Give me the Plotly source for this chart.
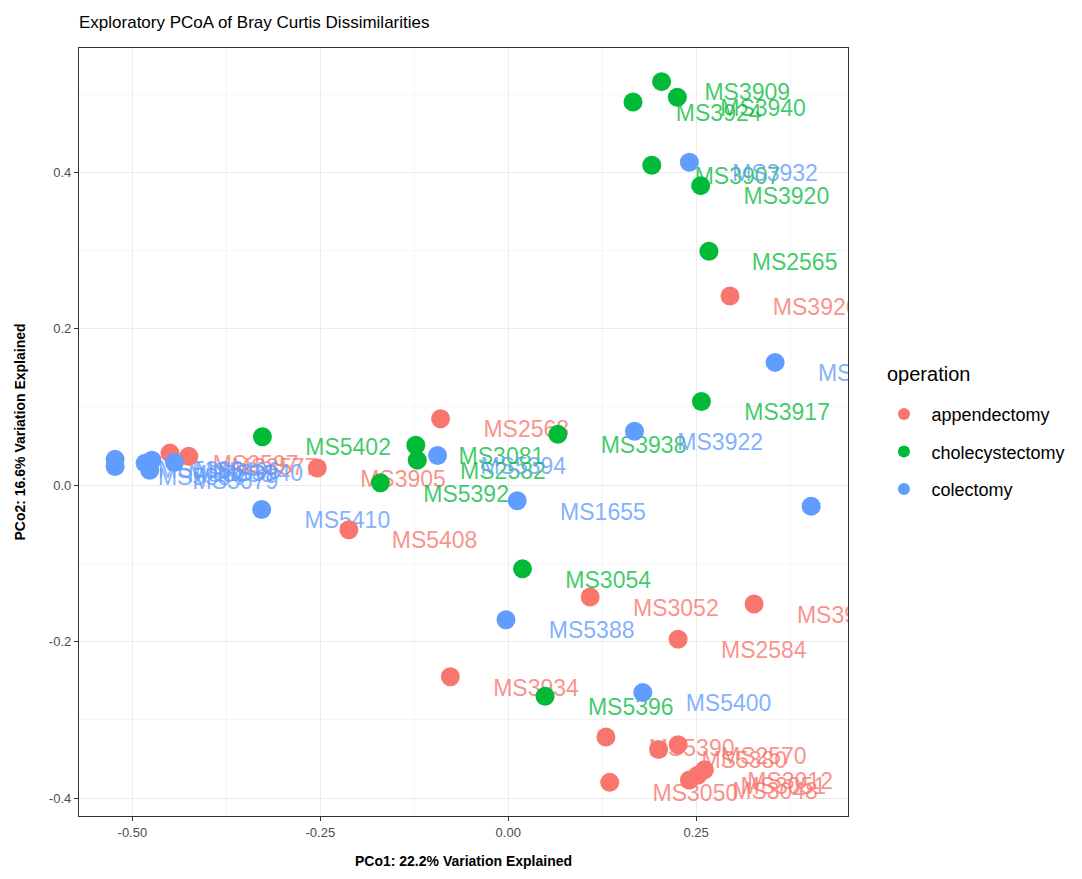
import plotly.graph_objects as go

# ---------------- data ----------------
operations = ["appendectomy", "cholecystectomy", "colectomy"]
colors = ["#F8766D", "#00BA38", "#619CFF"]
text_colors = ["rgba(248,118,109,0.8)", "rgba(0,186,56,0.75)", "rgba(97,156,255,0.8)"]

app_names = ["MS3926", "MS2568", "MS3905", "MS5408", "MS2597", "MS3577", "MS3052",
             "MS3915", "MS2584", "MS3934", "MS5390", "MS5380", "MS2570", "MS3050",
             "MS3048", "MS3051", "MS3012"]
app_x = [0.295, -0.090, -0.254, -0.212, -0.450, -0.425, 0.109,
         0.327, 0.226, -0.077, 0.130, 0.200, 0.226, 0.135,
         0.241, 0.252, 0.261]
app_y = [0.242, 0.085, 0.022, -0.057, 0.041, 0.037, -0.143,
         -0.152, -0.197, -0.245, -0.322, -0.338, -0.332, -0.380,
         -0.377, -0.371, -0.364]

cho_names = ["MS3909", "MS3940", "MS3924", "MS3907", "MS3920", "MS2565", "MS3917",
             "MS5402", "MS3081", "MS2582", "MS5392", "MS3938", "MS3054", "MS5396"]
cho_x = [0.204, 0.225, 0.166, 0.191, 0.256, 0.267, 0.257,
         -0.327, -0.123, -0.121, -0.170, 0.066, 0.019, 0.049]
cho_y = [0.516, 0.496, 0.490, 0.409, 0.383, 0.299, 0.107,
         0.062, 0.051, 0.032, 0.003, 0.065, -0.107, -0.270]

col_names = ["MS3932", "MS3937", "MS3930", "MS3922", "MS5394", "MS1655", "MS5410",
             "MS5388", "MS5400", "MS5386", "MS5384", "MS5398", "MS5406", "MS3679",
             "MS3940"]
col_x = [0.241, 0.355, 0.403, 0.168, -0.094, 0.012, -0.328,
         -0.003, 0.179, -0.523, -0.523, -0.483, -0.474, -0.477,
         -0.444]
col_y = [0.413, 0.157, -0.027, 0.069, 0.038, -0.020, -0.031,
         -0.172, -0.265, 0.033, 0.024, 0.028, 0.032, 0.019,
         0.029]

x_tick_vals = [-0.5, -0.25, 0.0, 0.25]
x_tick_text = ["-0.50", "-0.25", "0.00", "0.25"]
x_minor_vals = [-0.375, -0.125, 0.125, 0.375]
y_tick_vals = [-0.4, -0.2, 0.0, 0.2, 0.4]
y_tick_text = ["-0.4", "-0.2", "0.0", "0.2", "0.4"]
y_minor_vals = [-0.3, -0.1, 0.1, 0.3, 0.5]

label_dx = 0.114
label_dy = -0.0166

groups = [
    (app_names, app_x, app_y),
    (cho_names, cho_x, cho_y),
    (col_names, col_x, col_y),
]

FONT = "Liberation Sans, Arial, sans-serif"

fig = go.Figure()

# labels first (points are drawn over them)
for (names, xs, ys), tc in zip(groups, text_colors):
    fig.add_trace(go.Scatter(
        x=[v + label_dx for v in xs], y=[v + label_dy for v in ys],
        mode="text", text=names, textposition="middle center",
        textfont=dict(family=FONT, size=23, color=tc),
        cliponaxis=True, showlegend=False, hoverinfo="skip"))

for (names, xs, ys), op, c in zip(groups, operations, colors):
    fig.add_trace(go.Scatter(
        x=xs, y=ys, mode="markers", name=op, text=names,
        marker=dict(size=19, color=c, line=dict(width=0)),
        legendgroup=op, cliponaxis=True))

axis_common = dict(
    showgrid=True, gridcolor="#EBEBEB", gridwidth=1,
    zeroline=False, showline=True, linecolor="#333333", linewidth=1.3,
    mirror=True, ticks="outside", ticklen=4, tickcolor="#333333",
    tickfont=dict(family=FONT, size=13, color="#4D4D4D"),
)

fig.update_xaxes(
    range=[-0.571, 0.452], tickvals=x_tick_vals, ticktext=x_tick_text,
    minor=dict(tickvals=x_minor_vals, showgrid=True, gridcolor="#F5F5F5", ticks=""),
    title=dict(text="<b>PCo1: 22.2% Variation Explained</b>",
               font=dict(family=FONT, size=14, color="black"), standoff=17),
    **axis_common)
fig.update_yaxes(
    range=[-0.423, 0.559], tickvals=y_tick_vals, ticktext=y_tick_text,
    minor=dict(tickvals=y_minor_vals, showgrid=True, gridcolor="#F5F5F5", ticks=""),
    title=dict(text="<b>PCo2: 16.6% Variation Explained</b>",
               font=dict(family=FONT, size=14, color="black"), standoff=19),
    **axis_common)

fig.add_annotation(
    text="operation", xref="paper", yref="paper", x=1.048, y=0.576,
    xanchor="left", yanchor="middle", showarrow=False,
    font=dict(family=FONT, size=20, color="black"))

fig.update_layout(
    width=1074, height=871,
    margin=dict(l=69, r=233, t=40, b=60),
    paper_bgcolor="white", plot_bgcolor="white",
    title=dict(text="Exploratory PCoA of Bray Curtis Dissimilarities",
               x=0, xref="paper", xanchor="left", y=0.984, yanchor="middle",
               font=dict(family=FONT, size=17, color="black")),
    legend=dict(
        font=dict(family=FONT, size=18, color="black"),
        x=1.037, xanchor="left", y=0.547, yanchor="top",
        tracegroupgap=11, itemsizing="constant", itemwidth=45,
        bgcolor="rgba(0,0,0,0)"),
)

fig.write_html("out.html")
